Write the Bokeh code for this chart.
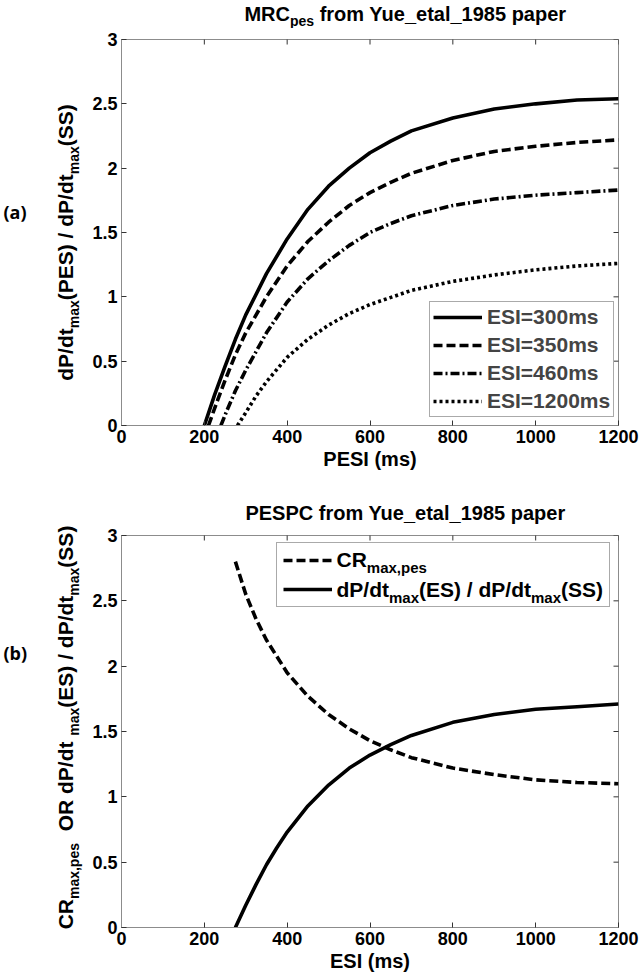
import math
from bokeh.plotting import figure
from bokeh.models import Label, Legend, LegendItem, FixedTicker, Range1d
from bokeh.layouts import column, row
from bokeh.embed import file_html
from bokeh.resources import INLINE

# ---------------- data ----------------
x_ticks = [0, 200, 400, 600, 800, 1000, 1200]
x_tick_labels = ["0", "200", "400", "600", "800", "1000", "1200"]
y_ticks = [0, 0.5, 1, 1.5, 2, 2.5, 3]
y_tick_labels = ["0", "0.5", "1", "1.5", "2", "2.5", "3"]

# panel (a): MRC_pes
pesi_300 = [200, 225, 250, 275, 300, 350, 400, 450, 500, 550, 600, 650, 700, 800, 900, 1000, 1100, 1200]
mrc_300 = [0, 0.24, 0.46, 0.67, 0.86, 1.18, 1.45, 1.68, 1.86, 2.00, 2.12, 2.21, 2.29, 2.39, 2.46, 2.50, 2.53, 2.54]
pesi_350 = [210, 230, 250, 275, 300, 350, 400, 450, 500, 550, 600, 650, 700, 800, 900, 1000, 1100, 1200]
mrc_350 = [0, 0.18, 0.35, 0.55, 0.72, 1.00, 1.24, 1.43, 1.58, 1.71, 1.81, 1.89, 1.96, 2.06, 2.13, 2.17, 2.20, 2.22]
pesi_460 = [240, 255, 275, 300, 350, 400, 450, 500, 550, 600, 650, 700, 800, 900, 1000, 1100, 1200]
mrc_460 = [0, 0.12, 0.27, 0.43, 0.72, 0.96, 1.14, 1.28, 1.40, 1.50, 1.57, 1.63, 1.71, 1.76, 1.79, 1.81, 1.83]
pesi_1200 = [280, 300, 325, 350, 400, 450, 500, 550, 600, 700, 800, 900, 1000, 1100, 1200]
mrc_1200 = [0, 0.10, 0.23, 0.34, 0.53, 0.67, 0.78, 0.87, 0.94, 1.05, 1.12, 1.17, 1.21, 1.24, 1.26]

# panel (b): PESPC
esi_cr = [275, 300, 325, 350, 400, 450, 500, 550, 600, 650, 700, 800, 900, 1000, 1100, 1200]
cr_max_pes = [2.80, 2.55, 2.36, 2.20, 1.95, 1.77, 1.63, 1.52, 1.43, 1.36, 1.30, 1.22, 1.17, 1.13, 1.11, 1.10]
esi_es = [275, 300, 325, 350, 375, 400, 450, 500, 550, 600, 650, 700, 800, 900, 1000, 1100, 1200]
dpdt_es = [0, 0.17, 0.33, 0.48, 0.61, 0.73, 0.93, 1.09, 1.22, 1.32, 1.40, 1.47, 1.57, 1.63, 1.67, 1.69, 1.71]

# ---------------- styling helpers ----------------
FONT = "Liberation Sans"
# Arial-Bold advance widths (1/1000 em), only used to lay out rich text pieces
WID = {' ': 278, '(': 333, ')': 333, ',': 278, '/': 278, '=': 584, '_': 556, '.': 278,
       'C': 722, 'E': 667, 'I': 278, 'M': 833, 'O': 778, 'P': 667, 'R': 722, 'S': 667, 'Y': 667,
       'a': 556, 'd': 611, 'e': 556, 'f': 333, 'l': 278, 'm': 889, 'o': 611, 'p': 611,
       'r': 389, 's': 556, 't': 333, 'u': 611, 'x': 556}
MID = 0.3465  # distance from alphabetic baseline to the "middle" line, in em


def tw(s, size):
    return sum(WID.get(c, 556) for c in s) * size / 1000.0


def rich(p, segs, cx, cy, size=20, sub=14, drop=6, angle=0.0, align="center"):
    """Lay out text pieces with subscripts; (cx, cy) is the start/centre on the baseline."""
    sizes = [sub if k == "s" else size for _, k in segs]
    total = sum(tw(t, fs) for (t, _), fs in zip(segs, sizes))
    pos = -total / 2 if align == "center" else 0.0
    for (t, k), fs in zip(segs, sizes):
        lead = len(t) - len(t.lstrip())
        start = pos + tw(t[:lead], fs)
        off = drop if k == "s" else 0
        if angle == 0:
            x, y = cx + start, cy - off + MID * fs
        else:
            x, y = cx + off - MID * fs, cy + start
        txt = t.strip()
        if txt:
            p.add_layout(Label(x=x, y=y, x_units="screen", y_units="screen", text=txt,
                               angle=angle, text_align="left", text_baseline="middle",
                               text_font=FONT, text_font_style="bold",
                               text_font_size=f"{fs}px", text_color="black"))
        pos += tw(t, fs)


def blank(w, h):
    b = figure(width=w, height=h, x_range=Range1d(0, 1), y_range=Range1d(0, 1),
               x_axis_type=None, y_axis_type=None, output_backend="svg", toolbar_location=None,
               min_border=0)
    b.outline_line_color = None
    b.border_fill_color = "white"
    b.background_fill_color = "white"
    return b


AX_COL = "#8c8c8c"
TICK_COL = "#333333"
PW = 557  # plot figure width


def make_fig(h, bt, bb, xlabel):
    p = figure(width=PW, height=h, x_range=Range1d(0, 1200), y_range=Range1d(0, 3),
               output_backend="svg", toolbar_location=None,
               min_border_left=36, min_border_right=24, min_border_top=bt, min_border_bottom=bb)
    p.xgrid.visible = False
    p.ygrid.visible = False
    p.outline_line_color = AX_COL
    p.background_fill_color = "white"
    p.border_fill_color = "white"
    xa = p.below[0]
    ya = p.left[0]
    xa.ticker = FixedTicker(ticks=x_ticks)
    ya.ticker = FixedTicker(ticks=y_ticks)
    xa.major_label_overrides = dict(zip(x_ticks, x_tick_labels))
    ya.major_label_overrides = dict(zip(y_ticks, y_tick_labels))
    for ax in [xa, ya]:
        ax.major_tick_in = 5
        ax.major_tick_out = 0
        ax.minor_tick_line_color = None
        ax.axis_line_color = AX_COL
        ax.major_tick_line_color = TICK_COL
        ax.major_label_text_font = FONT
        ax.major_label_text_font_style = "bold"
        ax.major_label_text_font_size = "18px"
        ax.major_label_text_color = "black"
    xa.major_label_standoff = 4
    ya.major_label_standoff = 4
    xa.axis_label = xlabel
    xa.axis_label_text_font = FONT
    xa.axis_label_text_font_style = "bold"
    xa.axis_label_text_font_size = "20px"
    xa.axis_label_text_color = "black"
    xa.axis_label_standoff = 2
    # tick marks on the top and right edges of the box (half of each dash is clipped away)
    p.scatter(x=x_ticks, y=[y_ticks[-1]] * len(x_ticks), marker="dash", angle=math.pi / 2,
              size=10, line_color=TICK_COL, line_width=1)
    p.scatter(x=[x_ticks[-1]] * len(y_ticks), y=y_ticks, marker="dash",
              size=10, line_color=TICK_COL, line_width=1)
    return p


LW = 3.6
DASH = "9 4"
DASHDOT = "9 3 2 3"
DOT = "3 3"
FW = 497  # frame width in px
TITLE_CX = 121 + FW / 2 - 85

# ---------------- panel (a) ----------------
lab_a = blank(85, 490)
title_a = blank(PW, 28)
pa = make_fig(462, 11, 65, "PESI (ms)")
ra1 = pa.line(pesi_300, mrc_300, line_width=LW, color="black", line_join="round")
ra2 = pa.line(pesi_350, mrc_350, line_width=LW, color="black", line_dash=DASH)
ra3 = pa.line(pesi_460, mrc_460, line_width=LW, color="black", line_dash=DASHDOT)
ra4 = pa.line(pesi_1200, mrc_1200, line_width=LW, color="black", line_dash=DOT)

leg_a = Legend(items=[LegendItem(label="ESI=300ms", renderers=[ra1]),
                      LegendItem(label="ESI=350ms", renderers=[ra2]),
                      LegendItem(label="ESI=460ms", renderers=[ra3]),
                      LegendItem(label="ESI=1200ms", renderers=[ra4])],
               location=(308, 8), margin=0, padding=3, spacing=4,
               glyph_width=49, glyph_height=20, label_height=20, label_standoff=5,
               label_text_font=FONT, label_text_font_style="bold", label_text_font_size="21px",
               border_line_color="#555555", border_line_width=1, background_fill_alpha=1.0)
pa.add_layout(leg_a)

rich(title_a, [("MRC", "n"), ("pes", "s"), (" from Yue_etal_1985 paper", "n")],
     TITLE_CX, 8, drop=5)
rich(lab_a, [("dP/dt", "n"), ("max", "s"), ("(PES) / dP/dt", "n"), ("max", "s"), ("(SS)", "n")],
     72, 490 - 242, size=21, sub=14, angle=math.pi / 2)
lab_a.add_layout(Label(x=3, y=490 - 211, x_units="screen", y_units="screen", text="(a)",
                       text_font="Open Sans", text_font_style="bold", text_font_size="18px",
                       text_align="left", text_baseline="middle", text_color="black"))

# ---------------- panel (b) ----------------
lab_b = blank(85, 488)
title_b = blank(PW, 35)
pb = make_fig(453, 10, 51, "ESI (ms)")
rb1 = pb.line(esi_cr, cr_max_pes, line_width=LW, color="black", line_dash=DASH)
rb2 = pb.line(esi_es, dpdt_es, line_width=LW, color="black", line_join="round")

LEG_B_X = 155
leg_b = Legend(items=[LegendItem(label=" ", renderers=[rb1]),
                      LegendItem(label=" ", renderers=[rb2])],
               location=(LEG_B_X, 320), margin=0, padding=6, spacing=7,
               glyph_width=49, glyph_height=22, label_height=22, label_standoff=5,
               label_width=266,
               label_text_font=FONT, label_text_font_style="bold", label_text_font_size="21px",
               border_line_color="#555555", border_line_width=1, background_fill_alpha=0.0)
pb.add_layout(leg_b)
text_x = LEG_B_X + 6 + 49 + 5
rich(pb, [("CR", "n"), ("max,pes", "s")], text_x, 361, size=21, sub=15, align="left")
rich(pb, [("dP/dt", "n"), ("max", "s"), ("(ES) / dP/dt", "n"), ("max", "s"), ("(SS)", "n")],
     text_x, 331, size=21, sub=15, align="left")

rich(title_b, [("PESPC from Yue_etal_1985 paper", "n")], TITLE_CX, 6)
rich(lab_b, [("CR", "n"), ("max,pes", "s"), ("  OR  dP/dt", "n"), ("max", "s"),
             ("(ES) / dP/dt", "n"), ("max", "s"), ("(SS)", "n")],
     72, 978 - 727, size=21, sub=14, angle=math.pi / 2)
lab_b.add_layout(Label(x=3, y=978 - 652, x_units="screen", y_units="screen", text="(b)",
                       text_font="Open Sans", text_font_style="bold", text_font_size="18px",
                       text_align="left", text_baseline="middle", text_color="black"))

layout = column(row(lab_a, column(title_a, pa, spacing=0), spacing=0),
                row(lab_b, column(title_b, pb, spacing=0), spacing=0), spacing=0)
open("out.html", "w").write(file_html(layout, INLINE))
